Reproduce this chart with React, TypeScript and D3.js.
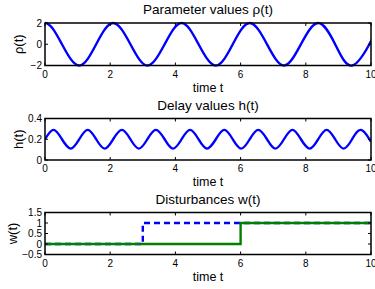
import React from "react";
import * as d3 from "d3";

// parameter rho(t), sampled at extrema / zero crossings (one point before 0 so the start is flat)
const rhoTime = [-0.52, 0, 0.52, 1.05, 1.57, 2.09, 2.62, 3.14, 3.67, 4.19, 4.71, 5.24, 5.76, 6.28, 6.81, 7.33, 7.85, 8.38, 8.9, 9.42, 9.95, 10];
const rhoValue = [0, 2, 0, -2, 0, 2, 0, -2, 0, 2, 0, -2, 0, 2, 0, -2, 0, 2, 0, -2, 0, 0.3];

// delay h(t)
const hTime = [0, 0.26, 0.52, 0.79, 1.05, 1.31, 1.57, 1.83, 2.09, 2.36, 2.62, 2.88, 3.14, 3.4, 3.67, 3.93, 4.19, 4.45, 4.71, 4.97, 5.24, 5.5, 5.76, 6.02, 6.28, 6.54, 6.81, 7.07, 7.33, 7.59, 7.85, 8.12, 8.38, 8.64, 8.9, 9.16, 9.42, 9.69, 9.95, 10];
const hValue = [0.2, 0.29, 0.2, 0.11, 0.2, 0.29, 0.2, 0.11, 0.2, 0.29, 0.2, 0.11, 0.2, 0.29, 0.2, 0.11, 0.2, 0.29, 0.2, 0.11, 0.2, 0.29, 0.2, 0.11, 0.2, 0.29, 0.2, 0.11, 0.2, 0.29, 0.2, 0.11, 0.2, 0.29, 0.2, 0.11, 0.2, 0.29, 0.2, 0.17];

// disturbances w(t): two step signals
const w1Time = [0, 3, 3, 10];
const w1Value = [0, 0, 1, 1];
const w2Time = [0, 6, 6, 10];
const w2Value = [0, 0, 1, 1];

const xTicks = [0, 2, 4, 6, 8, 10];
const rhoTicks = [-2, 0, 2];
const hTicks = [0, 0.2, 0.4];
const wTicks = [-0.5, 0, 0.5, 1, 1.5];

const FONT = "Liberation Sans, Arial, sans-serif";
const left = 45;
const right = 371;

type Series = { t: number[]; v: number[]; color: string; dash?: string; smooth?: boolean };

function Panel({ id, top, bottom, yDomain, yTicks, title, ylabel, ylabelX, series }: {
  id: string; top: number; bottom: number; yDomain: [number, number]; yTicks: number[];
  title: string; ylabel: string; ylabelX: number; series: Series[];
}) {
  const x = d3.scaleLinear().domain([0, 10]).range([left, right]);
  const y = d3.scaleLinear().domain(yDomain).range([bottom, top]);
  const fmt = (d: number) => (d < 0 ? "\u2212" + Math.abs(d) : String(d));
  const tl = 3;
  return (
    <g>
      <defs>
        <clipPath id={id}>
          <rect x={left} y={top - 3} width={right - left} height={bottom - top + 6} />
        </clipPath>
      </defs>
      <text x={(left + right) / 2} y={top - 9} textAnchor="middle" fontSize={13.5} fontFamily={FONT}>{title}</text>
      <g clipPath={`url(#${id})`}>
        {series.map((s, i) => {
          const line = d3.line<number>()
            .x((_, k) => x(s.t[k]))
            .y((d) => y(d))
            .curve(s.smooth ? d3.curveNatural : d3.curveLinear);
          return (
            <path key={i} d={line(s.v) || ""} fill="none" stroke={s.color} strokeWidth={2.4}
              strokeDasharray={s.dash} />
          );
        })}
      </g>
      {xTicks.map((t) => (
        <g key={"x" + t}>
          <line x1={x(t)} x2={x(t)} y1={bottom} y2={bottom - tl} stroke="#000" />
          <line x1={x(t)} x2={x(t)} y1={top} y2={top + tl} stroke="#000" />
          <text x={x(t)} y={bottom + 12} textAnchor="middle" fontSize={10} fontFamily={FONT}>{t}</text>
        </g>
      ))}
      {yTicks.map((t) => (
        <g key={"y" + t}>
          <line x1={left} x2={left + tl} y1={y(t)} y2={y(t)} stroke="#000" />
          <line x1={right} x2={right - tl} y1={y(t)} y2={y(t)} stroke="#000" />
          <text x={left - 3} y={y(t) + 3.5} textAnchor="end" fontSize={10} fontFamily={FONT}>{fmt(t)}</text>
        </g>
      ))}
      <rect x={left} y={top} width={right - left} height={bottom - top} fill="none" stroke="#000" strokeWidth={1.5} />
      <text x={(left + right) / 2} y={bottom + 26} textAnchor="middle" fontSize={12.5} fontFamily={FONT}>time t</text>
      <text transform={`translate(${ylabelX},${(top + bottom) / 2}) rotate(-90)`} textAnchor="middle"
        fontSize={13} fontFamily={FONT}>{ylabel}</text>
    </g>
  );
}

export default function App() {
  return (
    <svg width={375} height={289} style={{ position: "absolute", left: 0, top: 0, background: "#fff" }}>
      <rect width={375} height={289} fill="#fff" />
      <Panel id="c1" top={23} bottom={65.5} yDomain={[-2, 2]} yTicks={rhoTicks} title="Parameter values ρ(t)"
        ylabel="ρ(t)" ylabelX={23}
        series={[{ t: rhoTime, v: rhoValue, color: "#0000ff", smooth: true }]} />
      <Panel id="c2" top={118.5} bottom={160} yDomain={[0, 0.4]} yTicks={hTicks} title="Delay values h(t)"
        ylabel="h(t)" ylabelX={23}
        series={[{ t: hTime, v: hValue, color: "#0000ff", smooth: true }]} />
      <Panel id="c3" top={212.5} bottom={254.5} yDomain={[-0.5, 1.5]} yTicks={wTicks} title="Disturbances w(t)"
        ylabel="w(t)" ylabelX={17}
        series={[
          { t: w1Time, v: w1Value, color: "#0000ff", dash: "6,4" },
          { t: w2Time, v: w2Value, color: "#008000" },
        ]} />
    </svg>
  );
}
